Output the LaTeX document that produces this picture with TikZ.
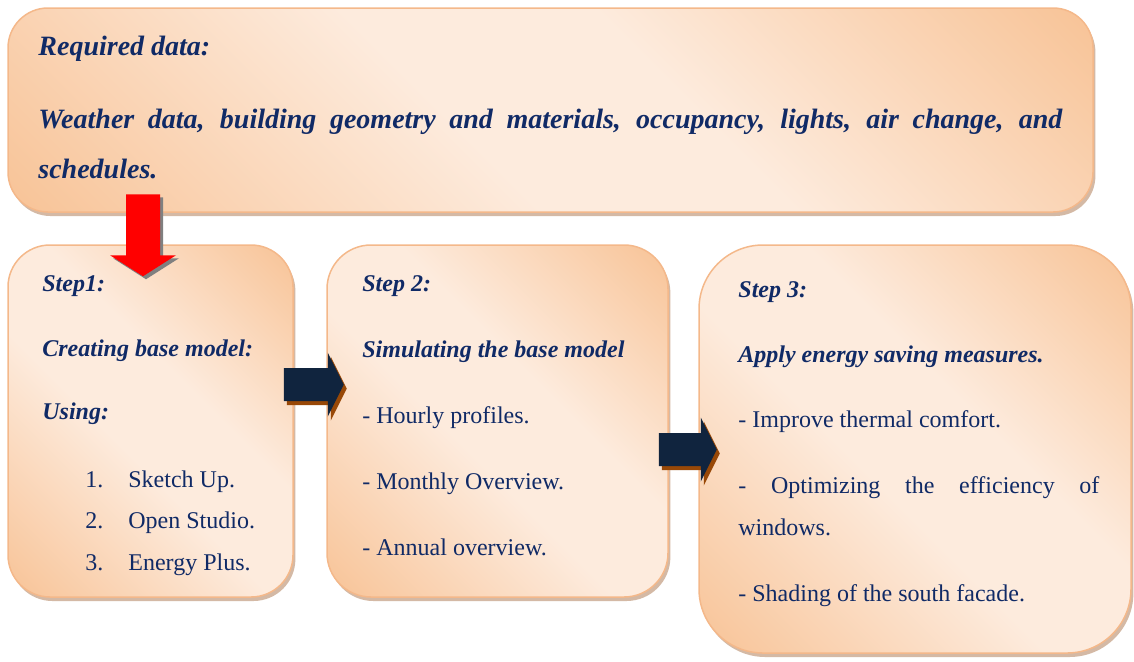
\documentclass[tikz,border=0pt]{standalone}
\usepackage{fontspec}
\setmainfont{Liberation Serif}
\usetikzlibrary{positioning,calc,shadows}
\definecolor{ink}{HTML}{102A66}
\definecolor{peachpale}{HTML}{FDEBDD}
\definecolor{peachdeep}{HTML}{F8C59A}
\definecolor{peachline}{HTML}{F4B88A}
\definecolor{peachshade}{HTML}{C9A88E}
\definecolor{navyarr}{HTML}{10243E}
\definecolor{rustarr}{HTML}{984807}
\pgfdeclarehorizontalshading{peachfill}{100bp}{color(0bp)=(peachdeep); color(16bp)=(peachdeep);
  color(44bp)=(peachpale); color(58bp)=(peachpale); color(84bp)=(peachdeep); color(100bp)=(peachdeep)}
\newcommand{\hd}[1]{\textbf{\textit{#1}}}

\begin{document}
\begin{tikzpicture}[x=0.5pt, y=-0.5pt,
  font=\fontsize{12}{20.75}\selectfont, text=ink,
  card/.style={draw=peachline, line width=0.75pt, shading=peachfill, shading angle=45,
               drop shadow={shadow xshift=1.2pt, shadow yshift=-2pt, fill=peachshade, opacity=0.8}},
  body/.style={anchor=base west, align=left, inner sep=0pt},
  navyarrow/.style={fill=navyarr, drop shadow={shadow xshift=1.5pt, shadow yshift=-2pt, fill=rustarr, opacity=1}},
  redarrow/.style={fill=red, drop shadow={shadow xshift=1.5pt, shadow yshift=-1.5pt, fill=gray, opacity=1}}]
\useasboundingbox (0,0) rectangle (1134,661);
% boxes
\node[card, rounded corners=20pt, minimum width=542.5pt, minimum height=102pt] (data) at (550.5,110) {};
\node[card, rounded corners=21pt, minimum width=142.5pt, minimum height=176pt] (s1) at (150.5,421) {};
\node[card, rounded corners=22pt, minimum width=170.5pt, minimum height=176pt] (s2) at (497.5,421) {};
\node[card, rounded corners=32pt, minimum width=216pt, minimum height=204pt] (s3) at (915,449) {};
% block arrows
\coordinate (down) at ($(s1.north)+(-7.5,-50)$);
\coordinate (step12) at ($(s1.east)+(-10,-36.5)$);
\coordinate (step23) at ($(s2.east)+(-10,28.5)$);
\fill[redarrow] (down) ++(-17,0) -- ++(34,0) -- ++(0,61) -- ++(16,0) -- ++(-33,21) -- ++(-33,-21) -- ++(16,0) -- cycle;
\fill[navyarrow] (step12) ++(0,-16.5) -- ++(44,0) -- ++(0,-15.5) -- ++(16,32) -- ++(-16,32) -- ++(0,-15.5) -- ++(-44,0) -- cycle;
\fill[navyarrow] (step23) ++(0,-16.5) -- ++(42,0) -- ++(0,-15.5) -- ++(16,32) -- ++(-16,32) -- ++(0,-15.5) -- ++(-42,0) -- cycle;
% texts (base = last line)
\node[body, font=\fontsize{14}{25}\selectfont\bfseries\itshape] (datatext) at (38,178)
  {Required data:\\[11.5pt]\makebox[512pt][s]{Weather data, building geometry and materials, occupancy, lights, air change, and}\\schedules.};
\node[body] (s1text) at (42,570)
  {\hd{Step1:}\\[11.75pt]\hd{Creating base model:}\\[10.75pt]\hd{Using:}\\[13.25pt]
   \hspace*{21.5pt}\makebox[21.5pt][l]{1.}Sketch Up.\\
   \hspace*{21.5pt}\makebox[21.5pt][l]{2.}Open Studio.\\
   \hspace*{21.5pt}\makebox[21.5pt][l]{3.}Energy Plus.};
\node[body] (s2text) at (362,555)
  {\hd{Step 2:}\\[12.25pt]\hd{Simulating the base model}\\[12.25pt]- Hourly profiles.\\[12.25pt]- Monthly Overview.\\[12.25pt]- Annual overview.};
\node[body] (s3text) at (738,601)
  {\hd{Step 3:}\\[11.75pt]\hd{Apply energy saving measures.}\\[11.75pt]- Improve thermal comfort.\\[12.25pt]\makebox[180.5pt][s]{- Optimizing the efficiency of}\\windows.\\[12.25pt]- Shading of the south facade.};
\end{tikzpicture}
\end{document}
